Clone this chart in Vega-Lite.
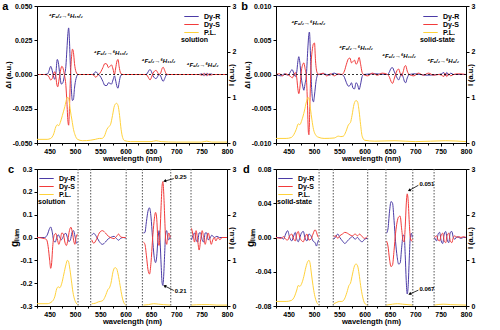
{
"$schema": "https://vega.github.io/schema/vega-lite/v6.json",
"padding": {"left": 1, "top": 0, "right": 1, "bottom": 1},
"config": {
  "font": "Liberation Sans",
  "view": {"stroke": "black", "strokeWidth": 1},
  "axis": {"grid": false, "domainColor": "black", "domainWidth": 1, "tickColor": "black", "tickSize": 3, "tickCount": 20, "labelColor": "black", "labelFontSize": 7, "labelFontWeight": "bold", "labelPadding": 2, "titleColor": "black", "titleFontSize": 7.5, "titleFontWeight": "bold", "titlePadding": 0, "labelFlush": false, "labelOverlap": false},
  "axisX": {"labelPadding": 1, "titlePadding": 0},
  "legend": {"title": null, "symbolType": "M-1.8,0H1.8", "symbolSize": 64, "symbolStrokeWidth": 1.3, "labelFontSize": 7, "labelFontWeight": "bold", "labelColor": "black", "rowPadding": 0, "padding": 0, "labelOffset": 8},
  "title": {"color": "black", "fontSize": 11, "fontWeight": "bold"},
  "text": {"color": "black"},
  "line": {"strokeWidth": 1, "interpolate": "monotone"},
  "locale": {"number": {"decimal": ".", "thousands": ",", "grouping": [3], "currency": ["$", ""], "minus": "-"}}
},
"resolve": {"scale": {"color": "independent"}, "legend": {"color": "independent"}},
"columns": 2,
"spacing": {"row": 1, "column": 3},
"datasets": {
  "a_cpl": [
    {"s":"Dy-R","wl":425,"v":0},{"s":"Dy-R","wl":440,"v":0},{"s":"Dy-R","wl":446,"v":0.0005},{"s":"Dy-R","wl":449,"v":0.003},{"s":"Dy-R","wl":452,"v":0.006},{"s":"Dy-R","wl":455,"v":0.003},{"s":"Dy-R","wl":458,"v":-0.002},{"s":"Dy-R","wl":460,"v":-0.0035},{"s":"Dy-R","wl":462,"v":0},{"s":"Dy-R","wl":465,"v":0.011},{"s":"Dy-R","wl":467,"v":0.009},{"s":"Dy-R","wl":470,"v":0},{"s":"Dy-R","wl":473,"v":-0.007},{"s":"Dy-R","wl":476,"v":-0.006},{"s":"Dy-R","wl":479,"v":-0.001},{"s":"Dy-R","wl":482,"v":0.006},{"s":"Dy-R","wl":484,"v":0.018},{"s":"Dy-R","wl":486,"v":0.03},{"s":"Dy-R","wl":487.5,"v":0.034},{"s":"Dy-R","wl":489,"v":0.025},{"s":"Dy-R","wl":491,"v":0.005},{"s":"Dy-R","wl":493,"v":-0.012},{"s":"Dy-R","wl":495,"v":-0.019},{"s":"Dy-R","wl":497,"v":-0.018},{"s":"Dy-R","wl":499,"v":-0.01},{"s":"Dy-R","wl":502,"v":-0.003},{"s":"Dy-R","wl":506,"v":0},{"s":"Dy-R","wl":535,"v":0},{"s":"Dy-R","wl":538,"v":0.001},{"s":"Dy-R","wl":541,"v":0.002},{"s":"Dy-R","wl":544,"v":0.001},{"s":"Dy-R","wl":547,"v":0},{"s":"Dy-R","wl":551,"v":-0.002},{"s":"Dy-R","wl":555,"v":-0.005},{"s":"Dy-R","wl":559,"v":-0.008},{"s":"Dy-R","wl":563,"v":-0.008},{"s":"Dy-R","wl":566,"v":-0.006},{"s":"Dy-R","wl":569,"v":-0.0065},{"s":"Dy-R","wl":572,"v":-0.007},{"s":"Dy-R","wl":575,"v":-0.004},{"s":"Dy-R","wl":578,"v":-0.001},{"s":"Dy-R","wl":580,"v":-0.004},{"s":"Dy-R","wl":583,"v":-0.009},{"s":"Dy-R","wl":585,"v":-0.01},{"s":"Dy-R","wl":587,"v":-0.006},{"s":"Dy-R","wl":590,"v":-0.001},{"s":"Dy-R","wl":594,"v":0},{"s":"Dy-R","wl":640,"v":0},{"s":"Dy-R","wl":643,"v":0.001},{"s":"Dy-R","wl":646,"v":0.003},{"s":"Dy-R","wl":648,"v":0.0036},{"s":"Dy-R","wl":651,"v":0.002},{"s":"Dy-R","wl":654,"v":-0.001},{"s":"Dy-R","wl":657,"v":-0.0025},{"s":"Dy-R","wl":660,"v":-0.003},{"s":"Dy-R","wl":663,"v":-0.0015},{"s":"Dy-R","wl":666,"v":0},{"s":"Dy-R","wl":669,"v":-0.001},{"s":"Dy-R","wl":672,"v":-0.004},{"s":"Dy-R","wl":674,"v":-0.005},{"s":"Dy-R","wl":677,"v":-0.003},{"s":"Dy-R","wl":680,"v":-0.0005},{"s":"Dy-R","wl":684,"v":0},{"s":"Dy-R","wl":745,"v":0},{"s":"Dy-R","wl":750,"v":0.0005},{"s":"Dy-R","wl":753,"v":-0.0008},{"s":"Dy-R","wl":756,"v":0.0008},{"s":"Dy-R","wl":759,"v":-0.0008},{"s":"Dy-R","wl":762,"v":0.0008},{"s":"Dy-R","wl":765,"v":-0.0005},{"s":"Dy-R","wl":768,"v":0.0005},{"s":"Dy-R","wl":772,"v":0},{"s":"Dy-R","wl":800,"v":0},
    {"s":"Dy-S","wl":425,"v":0},{"s":"Dy-S","wl":440,"v":0},{"s":"Dy-S","wl":446,"v":-0.0005},{"s":"Dy-S","wl":449,"v":-0.002},{"s":"Dy-S","wl":452,"v":-0.004},{"s":"Dy-S","wl":455,"v":-0.003},{"s":"Dy-S","wl":458,"v":0.001},{"s":"Dy-S","wl":460,"v":0.002},{"s":"Dy-S","wl":462,"v":-0.001},{"s":"Dy-S","wl":464,"v":-0.007},{"s":"Dy-S","wl":466,"v":-0.009},{"s":"Dy-S","wl":468,"v":-0.005},{"s":"Dy-S","wl":471,"v":0.002},{"s":"Dy-S","wl":474,"v":0.006},{"s":"Dy-S","wl":476,"v":0.005},{"s":"Dy-S","wl":479,"v":0},{"s":"Dy-S","wl":482,"v":-0.008},{"s":"Dy-S","wl":484,"v":-0.02},{"s":"Dy-S","wl":486,"v":-0.034},{"s":"Dy-S","wl":487.5,"v":-0.037},{"s":"Dy-S","wl":489,"v":-0.025},{"s":"Dy-S","wl":491,"v":-0.002},{"s":"Dy-S","wl":493,"v":0.012},{"s":"Dy-S","wl":495,"v":0.0185},{"s":"Dy-S","wl":497,"v":0.016},{"s":"Dy-S","wl":499,"v":0.008},{"s":"Dy-S","wl":502,"v":0.002},{"s":"Dy-S","wl":506,"v":0},{"s":"Dy-S","wl":535,"v":0},{"s":"Dy-S","wl":538,"v":-0.001},{"s":"Dy-S","wl":541,"v":-0.002},{"s":"Dy-S","wl":544,"v":-0.001},{"s":"Dy-S","wl":547,"v":0},{"s":"Dy-S","wl":551,"v":0.002},{"s":"Dy-S","wl":555,"v":0.005},{"s":"Dy-S","wl":559,"v":0.008},{"s":"Dy-S","wl":563,"v":0.0075},{"s":"Dy-S","wl":566,"v":0.005},{"s":"Dy-S","wl":569,"v":0.006},{"s":"Dy-S","wl":572,"v":0.007},{"s":"Dy-S","wl":575,"v":0.004},{"s":"Dy-S","wl":578,"v":0},{"s":"Dy-S","wl":580,"v":0.004},{"s":"Dy-S","wl":583,"v":0.01},{"s":"Dy-S","wl":585,"v":0.011},{"s":"Dy-S","wl":587,"v":0.006},{"s":"Dy-S","wl":590,"v":0.001},{"s":"Dy-S","wl":594,"v":0},{"s":"Dy-S","wl":640,"v":0},{"s":"Dy-S","wl":643,"v":-0.001},{"s":"Dy-S","wl":646,"v":-0.003},{"s":"Dy-S","wl":648,"v":-0.004},{"s":"Dy-S","wl":651,"v":-0.002},{"s":"Dy-S","wl":654,"v":0.001},{"s":"Dy-S","wl":657,"v":0.0025},{"s":"Dy-S","wl":660,"v":0.003},{"s":"Dy-S","wl":663,"v":0.0015},{"s":"Dy-S","wl":666,"v":0},{"s":"Dy-S","wl":669,"v":0.001},{"s":"Dy-S","wl":672,"v":0.0045},{"s":"Dy-S","wl":674,"v":0.0053},{"s":"Dy-S","wl":677,"v":0.003},{"s":"Dy-S","wl":680,"v":0.0005},{"s":"Dy-S","wl":684,"v":0},{"s":"Dy-S","wl":745,"v":0},{"s":"Dy-S","wl":750,"v":-0.0005},{"s":"Dy-S","wl":753,"v":0.0008},{"s":"Dy-S","wl":756,"v":-0.0008},{"s":"Dy-S","wl":759,"v":0.0008},{"s":"Dy-S","wl":762,"v":-0.0008},{"s":"Dy-S","wl":765,"v":0.0005},{"s":"Dy-S","wl":768,"v":-0.0005},{"s":"Dy-S","wl":772,"v":0},{"s":"Dy-S","wl":800,"v":0}
  ],
  "a_pl": [
    {"wl":425,"v":0.08},{"wl":445,"v":0.08},{"wl":452,"v":0.1},{"wl":458,"v":0.2},{"wl":462,"v":0.35},{"wl":465,"v":0.4},{"wl":468,"v":0.38},{"wl":471,"v":0.45},{"wl":475,"v":0.6},{"wl":480,"v":0.8},{"wl":484,"v":0.98},{"wl":486,"v":1.0},{"wl":488,"v":0.95},{"wl":491,"v":0.7},{"wl":494,"v":0.5},{"wl":497,"v":0.3},{"wl":500,"v":0.18},{"wl":505,"v":0.08},{"wl":515,"v":0.05},{"wl":530,"v":0.06},{"wl":540,"v":0.08},{"wl":548,"v":0.1},{"wl":553,"v":0.1},{"wl":558,"v":0.15},{"wl":563,"v":0.3},{"wl":567,"v":0.36},{"wl":570,"v":0.4},{"wl":574,"v":0.6},{"wl":578,"v":0.82},{"wl":582,"v":0.87},{"wl":585,"v":0.82},{"wl":588,"v":0.6},{"wl":591,"v":0.3},{"wl":594,"v":0.12},{"wl":598,"v":0.05},{"wl":610,"v":0.03},{"wl":650,"v":0.03},{"wl":660,"v":0.05},{"wl":670,"v":0.03},{"wl":700,"v":0.02},{"wl":750,"v":0.02},{"wl":760,"v":0.04},{"wl":770,"v":0.02},{"wl":800,"v":0.02}
  ],
  "a_tr": [
    {"wl":482,"v":0.043,"label":"⁴F₉/₂→⁶H₁₅/₂"},{"wl":571,"v":0.016,"label":"⁴F₉/₂→⁶H₁₃/₂"},{"wl":665,"v":0.0097,"label":"⁴F₉/₂→⁶H₁₁/₂"},{"wl":752,"v":0.0072,"label":"⁴F₉/₂→⁶H₉/₂"}
  ],
  "b_cpl": [
    {"s":"Dy-R","wl":425,"v":0},{"s":"Dy-R","wl":435,"v":-0.0002},{"s":"Dy-R","wl":442,"v":0.0001},{"s":"Dy-R","wl":448,"v":-0.0001},{"s":"Dy-R","wl":452,"v":0.0002},{"s":"Dy-R","wl":455,"v":0.0006},{"s":"Dy-R","wl":457,"v":0.0007},{"s":"Dy-R","wl":460,"v":0.0002},{"s":"Dy-R","wl":463,"v":-0.0003},{"s":"Dy-R","wl":466,"v":0.0004},{"s":"Dy-R","wl":468,"v":0.0018},{"s":"Dy-R","wl":470,"v":0.0026},{"s":"Dy-R","wl":472,"v":0.0018},{"s":"Dy-R","wl":475,"v":-0.0005},{"s":"Dy-R","wl":478,"v":-0.0018},{"s":"Dy-R","wl":480,"v":-0.0023},{"s":"Dy-R","wl":482,"v":-0.0015},{"s":"Dy-R","wl":485,"v":0},{"s":"Dy-R","wl":488,"v":0.004},{"s":"Dy-R","wl":490,"v":0.006},{"s":"Dy-R","wl":491,"v":0.0062},{"s":"Dy-R","wl":493,"v":0.003},{"s":"Dy-R","wl":495,"v":-0.0015},{"s":"Dy-R","wl":497,"v":-0.0035},{"s":"Dy-R","wl":499,"v":-0.004},{"s":"Dy-R","wl":501,"v":-0.003},{"s":"Dy-R","wl":504,"v":-0.001},{"s":"Dy-R","wl":508,"v":0},{"s":"Dy-R","wl":520,"v":0.0001},{"s":"Dy-R","wl":530,"v":-0.0001},{"s":"Dy-R","wl":540,"v":0.0002},{"s":"Dy-R","wl":548,"v":0},{"s":"Dy-R","wl":555,"v":0},{"s":"Dy-R","wl":560,"v":-0.0004},{"s":"Dy-R","wl":564,"v":-0.0012},{"s":"Dy-R","wl":568,"v":-0.0017},{"s":"Dy-R","wl":571,"v":-0.0016},{"s":"Dy-R","wl":574,"v":-0.0012},{"s":"Dy-R","wl":577,"v":-0.002},{"s":"Dy-R","wl":580,"v":-0.0021},{"s":"Dy-R","wl":583,"v":-0.0012},{"s":"Dy-R","wl":586,"v":-0.0015},{"s":"Dy-R","wl":589,"v":-0.0022},{"s":"Dy-R","wl":592,"v":-0.0014},{"s":"Dy-R","wl":595,"v":-0.0003},{"s":"Dy-R","wl":598,"v":0},{"s":"Dy-R","wl":620,"v":0.0001},{"s":"Dy-R","wl":645,"v":0},{"s":"Dy-R","wl":649,"v":0.0004},{"s":"Dy-R","wl":652,"v":0.0009},{"s":"Dy-R","wl":655,"v":0.001},{"s":"Dy-R","wl":658,"v":0.0005},{"s":"Dy-R","wl":661,"v":0},{"s":"Dy-R","wl":664,"v":-0.0005},{"s":"Dy-R","wl":667,"v":-0.0008},{"s":"Dy-R","wl":670,"v":-0.0003},{"s":"Dy-R","wl":673,"v":0.0001},{"s":"Dy-R","wl":676,"v":-0.0004},{"s":"Dy-R","wl":679,"v":-0.0011},{"s":"Dy-R","wl":681,"v":-0.0012},{"s":"Dy-R","wl":684,"v":-0.0005},{"s":"Dy-R","wl":688,"v":0},{"s":"Dy-R","wl":700,"v":0.0001},{"s":"Dy-R","wl":720,"v":-0.0001},{"s":"Dy-R","wl":745,"v":0},{"s":"Dy-R","wl":752,"v":0.0001},{"s":"Dy-R","wl":756,"v":0.0003},{"s":"Dy-R","wl":759,"v":-0.0002},{"s":"Dy-R","wl":762,"v":0.0003},{"s":"Dy-R","wl":766,"v":-0.0001},{"s":"Dy-R","wl":770,"v":0.0002},{"s":"Dy-R","wl":775,"v":0},{"s":"Dy-R","wl":800,"v":0},
    {"s":"Dy-S","wl":425,"v":0},{"s":"Dy-S","wl":432,"v":0.0001},{"s":"Dy-S","wl":438,"v":-0.0002},{"s":"Dy-S","wl":444,"v":0.0001},{"s":"Dy-S","wl":450,"v":-0.0001},{"s":"Dy-S","wl":454,"v":-0.0003},{"s":"Dy-S","wl":457,"v":-0.0005},{"s":"Dy-S","wl":460,"v":-0.0001},{"s":"Dy-S","wl":463,"v":0.0003},{"s":"Dy-S","wl":466,"v":-0.0005},{"s":"Dy-S","wl":468,"v":-0.002},{"s":"Dy-S","wl":470,"v":-0.0028},{"s":"Dy-S","wl":472,"v":-0.002},{"s":"Dy-S","wl":475,"v":0.0005},{"s":"Dy-S","wl":478,"v":0.0015},{"s":"Dy-S","wl":480,"v":0.0017},{"s":"Dy-S","wl":482,"v":0.001},{"s":"Dy-S","wl":485,"v":-0.0005},{"s":"Dy-S","wl":487,"v":-0.004},{"s":"Dy-S","wl":489,"v":-0.0085},{"s":"Dy-S","wl":490,"v":-0.0088},{"s":"Dy-S","wl":492,"v":-0.004},{"s":"Dy-S","wl":494,"v":0.001},{"s":"Dy-S","wl":497,"v":0.0038},{"s":"Dy-S","wl":499,"v":0.0045},{"s":"Dy-S","wl":501,"v":0.0046},{"s":"Dy-S","wl":503,"v":0.002},{"s":"Dy-S","wl":506,"v":0.0003},{"s":"Dy-S","wl":510,"v":0},{"s":"Dy-S","wl":518,"v":0.0002},{"s":"Dy-S","wl":525,"v":-0.0002},{"s":"Dy-S","wl":533,"v":0.0001},{"s":"Dy-S","wl":540,"v":-0.0002},{"s":"Dy-S","wl":548,"v":0.0001},{"s":"Dy-S","wl":555,"v":0},{"s":"Dy-S","wl":560,"v":0.0005},{"s":"Dy-S","wl":564,"v":0.0015},{"s":"Dy-S","wl":568,"v":0.0023},{"s":"Dy-S","wl":571,"v":0.0024},{"s":"Dy-S","wl":574,"v":0.0017},{"s":"Dy-S","wl":577,"v":0.0019},{"s":"Dy-S","wl":580,"v":0.0021},{"s":"Dy-S","wl":583,"v":0.0015},{"s":"Dy-S","wl":586,"v":0.0018},{"s":"Dy-S","wl":589,"v":0.0025},{"s":"Dy-S","wl":592,"v":0.0015},{"s":"Dy-S","wl":595,"v":0.0003},{"s":"Dy-S","wl":598,"v":0},{"s":"Dy-S","wl":606,"v":-0.0002},{"s":"Dy-S","wl":615,"v":0.0002},{"s":"Dy-S","wl":625,"v":-0.0001},{"s":"Dy-S","wl":635,"v":0.0002},{"s":"Dy-S","wl":645,"v":0},{"s":"Dy-S","wl":649,"v":-0.0004},{"s":"Dy-S","wl":652,"v":-0.001},{"s":"Dy-S","wl":655,"v":-0.0013},{"s":"Dy-S","wl":658,"v":-0.0007},{"s":"Dy-S","wl":661,"v":0},{"s":"Dy-S","wl":664,"v":0.0006},{"s":"Dy-S","wl":667,"v":0.0008},{"s":"Dy-S","wl":670,"v":0.0002},{"s":"Dy-S","wl":673,"v":-0.0002},{"s":"Dy-S","wl":676,"v":0.0004},{"s":"Dy-S","wl":679,"v":0.0012},{"s":"Dy-S","wl":681,"v":0.0013},{"s":"Dy-S","wl":684,"v":0.0005},{"s":"Dy-S","wl":688,"v":0},{"s":"Dy-S","wl":697,"v":-0.0002},{"s":"Dy-S","wl":706,"v":0.0002},{"s":"Dy-S","wl":716,"v":-0.0001},{"s":"Dy-S","wl":726,"v":0.0002},{"s":"Dy-S","wl":736,"v":-0.0001},{"s":"Dy-S","wl":745,"v":0},{"s":"Dy-S","wl":752,"v":-0.0001},{"s":"Dy-S","wl":756,"v":-0.0003},{"s":"Dy-S","wl":759,"v":0.0002},{"s":"Dy-S","wl":762,"v":-0.0003},{"s":"Dy-S","wl":766,"v":0.0001},{"s":"Dy-S","wl":770,"v":-0.0002},{"s":"Dy-S","wl":775,"v":0},{"s":"Dy-S","wl":785,"v":0.0001},{"s":"Dy-S","wl":800,"v":0}
  ],
  "b_pl": [
    {"wl":425,"v":0.1},{"wl":445,"v":0.1},{"wl":455,"v":0.12},{"wl":460,"v":0.18},{"wl":465,"v":0.3},{"wl":469,"v":0.42},{"wl":472,"v":0.4},{"wl":476,"v":0.5},{"wl":481,"v":0.7},{"wl":485,"v":0.9},{"wl":488,"v":1.0},{"wl":490,"v":0.97},{"wl":493,"v":0.75},{"wl":496,"v":0.5},{"wl":499,"v":0.3},{"wl":503,"v":0.18},{"wl":508,"v":0.13},{"wl":520,"v":0.1},{"wl":540,"v":0.11},{"wl":548,"v":0.15},{"wl":553,"v":0.14},{"wl":558,"v":0.15},{"wl":563,"v":0.25},{"wl":568,"v":0.4},{"wl":572,"v":0.45},{"wl":575,"v":0.6},{"wl":579,"v":0.85},{"wl":583,"v":0.93},{"wl":586,"v":0.9},{"wl":589,"v":0.7},{"wl":592,"v":0.4},{"wl":595,"v":0.15},{"wl":600,"v":0.06},{"wl":620,"v":0.04},{"wl":660,"v":0.05},{"wl":700,"v":0.03},{"wl":760,"v":0.05},{"wl":800,"v":0.03}
  ],
  "b_tr": [
    {"wl":489,"v":0.0075,"label":"⁴F₉/₂→⁶H₁₅/₂"},{"wl":583,"v":0.0039,"label":"⁴F₉/₂→⁶H₁₃/₂"},{"wl":668,"v":0.0027,"label":"⁴F₉/₂→⁶H₁₁/₂"},{"wl":755,"v":0.0019,"label":"⁴F₉/₂→⁶H₉/₂"}
  ],
  "c_cpl": [
    {"s":"Dy-R","g":1,"wl":425,"v":0},{"s":"Dy-R","g":1,"wl":440,"v":0},{"s":"Dy-R","g":1,"wl":446,"v":0.015},{"s":"Dy-R","g":1,"wl":449,"v":0.035},{"s":"Dy-R","g":1,"wl":452,"v":0.046},{"s":"Dy-R","g":1,"wl":455,"v":0.025},{"s":"Dy-R","g":1,"wl":458,"v":-0.015},{"s":"Dy-R","g":1,"wl":461,"v":-0.02},{"s":"Dy-R","g":1,"wl":464,"v":0},{"s":"Dy-R","g":1,"wl":467,"v":0.012},{"s":"Dy-R","g":1,"wl":470,"v":0},{"s":"Dy-R","g":1,"wl":473,"v":-0.01},{"s":"Dy-R","g":1,"wl":476,"v":0},{"s":"Dy-R","g":1,"wl":479,"v":0.015},{"s":"Dy-R","g":1,"wl":482,"v":0.018},{"s":"Dy-R","g":1,"wl":485,"v":0},{"s":"Dy-R","g":1,"wl":488,"v":-0.018},{"s":"Dy-R","g":1,"wl":491,"v":-0.01},{"s":"Dy-R","g":1,"wl":494,"v":0.02},{"s":"Dy-R","g":1,"wl":497,"v":0.03},{"s":"Dy-R","g":1,"wl":500,"v":0.005},{"s":"Dy-R","g":1,"wl":503,"v":-0.025},{"s":"Dy-R","g":1,"wl":505,"v":-0.02},
    {"s":"Dy-R","g":2,"wl":533,"v":0.01},{"s":"Dy-R","g":2,"wl":537,"v":0.018},{"s":"Dy-R","g":2,"wl":542,"v":0.005},{"s":"Dy-R","g":2,"wl":548,"v":-0.018},{"s":"Dy-R","g":2,"wl":554,"v":-0.03},{"s":"Dy-R","g":2,"wl":560,"v":-0.02},{"s":"Dy-R","g":2,"wl":566,"v":-0.005},{"s":"Dy-R","g":2,"wl":572,"v":0.002},{"s":"Dy-R","g":2,"wl":577,"v":0.005},{"s":"Dy-R","g":2,"wl":582,"v":-0.005},{"s":"Dy-R","g":2,"wl":586,"v":-0.012},{"s":"Dy-R","g":2,"wl":590,"v":-0.004},{"s":"Dy-R","g":2,"wl":595,"v":0},{"s":"Dy-R","g":2,"wl":600,"v":-0.003},
    {"s":"Dy-R","g":3,"wl":635,"v":0.02},{"s":"Dy-R","g":3,"wl":638,"v":0.022},{"s":"Dy-R","g":3,"wl":641,"v":0.07},{"s":"Dy-R","g":3,"wl":644,"v":0.115},{"s":"Dy-R","g":3,"wl":647,"v":0.13},{"s":"Dy-R","g":3,"wl":650,"v":0.09},{"s":"Dy-R","g":3,"wl":653,"v":0},{"s":"Dy-R","g":3,"wl":656,"v":-0.08},{"s":"Dy-R","g":3,"wl":659,"v":-0.11},{"s":"Dy-R","g":3,"wl":661,"v":-0.09},{"s":"Dy-R","g":3,"wl":664,"v":0},{"s":"Dy-R","g":3,"wl":666,"v":0.03},{"s":"Dy-R","g":3,"wl":668,"v":-0.02},{"s":"Dy-R","g":3,"wl":670,"v":-0.12},{"s":"Dy-R","g":3,"wl":672,"v":-0.2},{"s":"Dy-R","g":3,"wl":673.5,"v":-0.21},{"s":"Dy-R","g":3,"wl":675,"v":-0.17},{"s":"Dy-R","g":3,"wl":677,"v":-0.07},{"s":"Dy-R","g":3,"wl":679,"v":0.02},{"s":"Dy-R","g":3,"wl":681,"v":0.03},{"s":"Dy-R","g":3,"wl":683,"v":0},{"s":"Dy-R","g":3,"wl":685,"v":-0.01},{"s":"Dy-R","g":3,"wl":688,"v":0.005},
    {"s":"Dy-R","g":4,"wl":730,"v":-0.01},{"s":"Dy-R","g":4,"wl":733,"v":0.01},{"s":"Dy-R","g":4,"wl":736,"v":0.02},{"s":"Dy-R","g":4,"wl":739,"v":-0.01},{"s":"Dy-R","g":4,"wl":742,"v":-0.02},{"s":"Dy-R","g":4,"wl":745,"v":0.02},{"s":"Dy-R","g":4,"wl":748,"v":0.02},{"s":"Dy-R","g":4,"wl":751,"v":-0.01},{"s":"Dy-R","g":4,"wl":754,"v":-0.02},{"s":"Dy-R","g":4,"wl":757,"v":0.02},{"s":"Dy-R","g":4,"wl":760,"v":0.02},{"s":"Dy-R","g":4,"wl":763,"v":-0.01},{"s":"Dy-R","g":4,"wl":766,"v":-0.005},{"s":"Dy-R","g":4,"wl":770,"v":0.01},{"s":"Dy-R","g":4,"wl":775,"v":0},{"s":"Dy-R","g":4,"wl":780,"v":0.005},{"s":"Dy-R","g":4,"wl":785,"v":0},{"s":"Dy-R","g":4,"wl":800,"v":0},
    {"s":"Dy-S","g":1,"wl":425,"v":0},{"s":"Dy-S","g":1,"wl":440,"v":-0.005},{"s":"Dy-S","g":1,"wl":444,"v":-0.01},{"s":"Dy-S","g":1,"wl":447,"v":-0.04},{"s":"Dy-S","g":1,"wl":450,"v":-0.1},{"s":"Dy-S","g":1,"wl":452,"v":-0.135},{"s":"Dy-S","g":1,"wl":454,"v":-0.11},{"s":"Dy-S","g":1,"wl":456,"v":-0.04},{"s":"Dy-S","g":1,"wl":459,"v":0.01},{"s":"Dy-S","g":1,"wl":462,"v":0.018},{"s":"Dy-S","g":1,"wl":465,"v":-0.005},{"s":"Dy-S","g":1,"wl":468,"v":-0.03},{"s":"Dy-S","g":1,"wl":471,"v":-0.01},{"s":"Dy-S","g":1,"wl":474,"v":0.02},{"s":"Dy-S","g":1,"wl":477,"v":0.015},{"s":"Dy-S","g":1,"wl":480,"v":-0.02},{"s":"Dy-S","g":1,"wl":483,"v":-0.035},{"s":"Dy-S","g":1,"wl":486,"v":-0.01},{"s":"Dy-S","g":1,"wl":489,"v":0.03},{"s":"Dy-S","g":1,"wl":492,"v":0.045},{"s":"Dy-S","g":1,"wl":495,"v":0.02},{"s":"Dy-S","g":1,"wl":498,"v":-0.02},{"s":"Dy-S","g":1,"wl":500,"v":-0.03},{"s":"Dy-S","g":1,"wl":502,"v":0},{"s":"Dy-S","g":1,"wl":505,"v":0.015},
    {"s":"Dy-S","g":2,"wl":533,"v":-0.01},{"s":"Dy-S","g":2,"wl":537,"v":-0.025},{"s":"Dy-S","g":2,"wl":542,"v":-0.01},{"s":"Dy-S","g":2,"wl":548,"v":0.02},{"s":"Dy-S","g":2,"wl":554,"v":0.03},{"s":"Dy-S","g":2,"wl":560,"v":0.02},{"s":"Dy-S","g":2,"wl":566,"v":0.005},{"s":"Dy-S","g":2,"wl":572,"v":-0.002},{"s":"Dy-S","g":2,"wl":577,"v":-0.005},{"s":"Dy-S","g":2,"wl":582,"v":0.005},{"s":"Dy-S","g":2,"wl":586,"v":0.015},{"s":"Dy-S","g":2,"wl":590,"v":0.003},{"s":"Dy-S","g":2,"wl":595,"v":0},{"s":"Dy-S","g":2,"wl":600,"v":0},
    {"s":"Dy-S","g":3,"wl":635,"v":-0.02},{"s":"Dy-S","g":3,"wl":638,"v":-0.03},{"s":"Dy-S","g":3,"wl":641,"v":-0.08},{"s":"Dy-S","g":3,"wl":644,"v":-0.14},{"s":"Dy-S","g":3,"wl":647,"v":-0.16},{"s":"Dy-S","g":3,"wl":650,"v":-0.11},{"s":"Dy-S","g":3,"wl":653,"v":-0.01},{"s":"Dy-S","g":3,"wl":656,"v":0.07},{"s":"Dy-S","g":3,"wl":659,"v":0.11},{"s":"Dy-S","g":3,"wl":661,"v":0.09},{"s":"Dy-S","g":3,"wl":664,"v":-0.02},{"s":"Dy-S","g":3,"wl":666,"v":-0.035},{"s":"Dy-S","g":3,"wl":668,"v":0.03},{"s":"Dy-S","g":3,"wl":670,"v":0.14},{"s":"Dy-S","g":3,"wl":672,"v":0.23},{"s":"Dy-S","g":3,"wl":673.5,"v":0.245},{"s":"Dy-S","g":3,"wl":675,"v":0.2},{"s":"Dy-S","g":3,"wl":677,"v":0.09},{"s":"Dy-S","g":3,"wl":679,"v":-0.01},{"s":"Dy-S","g":3,"wl":681,"v":-0.03},{"s":"Dy-S","g":3,"wl":683,"v":0},{"s":"Dy-S","g":3,"wl":685,"v":0.02},{"s":"Dy-S","g":3,"wl":688,"v":0},
    {"s":"Dy-S","g":4,"wl":730,"v":0.04},{"s":"Dy-S","g":4,"wl":733,"v":0.01},{"s":"Dy-S","g":4,"wl":736,"v":-0.02},{"s":"Dy-S","g":4,"wl":739,"v":0.03},{"s":"Dy-S","g":4,"wl":742,"v":-0.01},{"s":"Dy-S","g":4,"wl":745,"v":-0.055},{"s":"Dy-S","g":4,"wl":748,"v":-0.01},{"s":"Dy-S","g":4,"wl":751,"v":0.03},{"s":"Dy-S","g":4,"wl":754,"v":0},{"s":"Dy-S","g":4,"wl":757,"v":-0.03},{"s":"Dy-S","g":4,"wl":760,"v":0},{"s":"Dy-S","g":4,"wl":763,"v":0.02},{"s":"Dy-S","g":4,"wl":766,"v":-0.005},{"s":"Dy-S","g":4,"wl":769,"v":-0.03},{"s":"Dy-S","g":4,"wl":772,"v":-0.01},{"s":"Dy-S","g":4,"wl":775,"v":0},{"s":"Dy-S","g":4,"wl":778,"v":-0.015},{"s":"Dy-S","g":4,"wl":782,"v":0},{"s":"Dy-S","g":4,"wl":786,"v":-0.01},{"s":"Dy-S","g":4,"wl":790,"v":0},{"s":"Dy-S","g":4,"wl":800,"v":0}
  ],
  "c_pl": [
    {"g":1,"wl":425,"v":0.05},{"g":1,"wl":445,"v":0.05},{"g":1,"wl":455,"v":0.1},{"g":1,"wl":460,"v":0.2},{"g":1,"wl":464,"v":0.38},{"g":1,"wl":467,"v":0.42},{"g":1,"wl":470,"v":0.4},{"g":1,"wl":474,"v":0.5},{"g":1,"wl":478,"v":0.7},{"g":1,"wl":482,"v":0.9},{"g":1,"wl":485,"v":1.0},{"g":1,"wl":487,"v":0.98},{"g":1,"wl":490,"v":0.8},{"g":1,"wl":493,"v":0.55},{"g":1,"wl":496,"v":0.3},{"g":1,"wl":499,"v":0.15},{"g":1,"wl":502,"v":0.07},{"g":1,"wl":505,"v":0.03},
    {"g":2,"wl":533,"v":0.05},{"g":2,"wl":540,"v":0.06},{"g":2,"wl":546,"v":0.09},{"g":2,"wl":550,"v":0.1},{"g":2,"wl":555,"v":0.12},{"g":2,"wl":560,"v":0.22},{"g":2,"wl":565,"v":0.36},{"g":2,"wl":568,"v":0.4},{"g":2,"wl":571,"v":0.5},{"g":2,"wl":575,"v":0.75},{"g":2,"wl":579,"v":0.84},{"g":2,"wl":582,"v":0.82},{"g":2,"wl":585,"v":0.7},{"g":2,"wl":589,"v":0.45},{"g":2,"wl":593,"v":0.2},{"g":2,"wl":597,"v":0.06},{"g":2,"wl":600,"v":0.02},
    {"g":3,"wl":635,"v":0.02},{"g":3,"wl":645,"v":0.03},{"g":3,"wl":655,"v":0.05},{"g":3,"wl":665,"v":0.04},{"g":3,"wl":675,"v":0.03},{"g":3,"wl":688,"v":0.02},
    {"g":4,"wl":730,"v":0.02},{"g":4,"wl":750,"v":0.03},{"g":4,"wl":765,"v":0.03},{"g":4,"wl":780,"v":0.02},{"g":4,"wl":800,"v":0.02}
  ],
  "c_sep": [{"wl":506},{"wl":531},{"wl":601},{"wl":633},{"wl":689},{"wl":729}],
  "d_cpl": [
    {"s":"Dy-R","g":1,"wl":425,"v":0},{"s":"Dy-R","g":1,"wl":435,"v":0},{"s":"Dy-R","g":1,"wl":440,"v":-0.002},{"s":"Dy-R","g":1,"wl":444,"v":0.004},{"s":"Dy-R","g":1,"wl":448,"v":0.008},{"s":"Dy-R","g":1,"wl":452,"v":0},{"s":"Dy-R","g":1,"wl":456,"v":-0.004},{"s":"Dy-R","g":1,"wl":460,"v":0.002},{"s":"Dy-R","g":1,"wl":463,"v":0.006},{"s":"Dy-R","g":1,"wl":466,"v":-0.002},{"s":"Dy-R","g":1,"wl":469,"v":-0.005},{"s":"Dy-R","g":1,"wl":472,"v":0},{"s":"Dy-R","g":1,"wl":476,"v":0.006},{"s":"Dy-R","g":1,"wl":479,"v":0.007},{"s":"Dy-R","g":1,"wl":482,"v":0},{"s":"Dy-R","g":1,"wl":486,"v":-0.004},{"s":"Dy-R","g":1,"wl":490,"v":0.004},{"s":"Dy-R","g":1,"wl":494,"v":0.002},{"s":"Dy-R","g":1,"wl":498,"v":-0.004},{"s":"Dy-R","g":1,"wl":502,"v":-0.006},{"s":"Dy-R","g":1,"wl":505,"v":-0.01},{"s":"Dy-R","g":1,"wl":507,"v":-0.006},{"s":"Dy-R","g":1,"wl":509,"v":-0.003},
    {"s":"Dy-R","g":2,"wl":539,"v":-0.002},{"s":"Dy-R","g":2,"wl":543,"v":0.001},{"s":"Dy-R","g":2,"wl":547,"v":0.004},{"s":"Dy-R","g":2,"wl":551,"v":0},{"s":"Dy-R","g":2,"wl":556,"v":-0.004},{"s":"Dy-R","g":2,"wl":561,"v":-0.007},{"s":"Dy-R","g":2,"wl":566,"v":-0.004},{"s":"Dy-R","g":2,"wl":571,"v":-0.001},{"s":"Dy-R","g":2,"wl":576,"v":0.001},{"s":"Dy-R","g":2,"wl":581,"v":-0.002},{"s":"Dy-R","g":2,"wl":586,"v":0},{"s":"Dy-R","g":2,"wl":590,"v":-0.003},{"s":"Dy-R","g":2,"wl":595,"v":-0.005},{"s":"Dy-R","g":2,"wl":600,"v":-0.002},{"s":"Dy-R","g":2,"wl":605,"v":-0.001},
    {"s":"Dy-R","g":3,"wl":643,"v":0.005},{"s":"Dy-R","g":3,"wl":646,"v":0.01},{"s":"Dy-R","g":3,"wl":649,"v":0.03},{"s":"Dy-R","g":3,"wl":652,"v":0.042},{"s":"Dy-R","g":3,"wl":655,"v":0.04},{"s":"Dy-R","g":3,"wl":658,"v":0.02},{"s":"Dy-R","g":3,"wl":661,"v":-0.005},{"s":"Dy-R","g":3,"wl":664,"v":-0.022},{"s":"Dy-R","g":3,"wl":667,"v":-0.031},{"s":"Dy-R","g":3,"wl":670,"v":-0.03},{"s":"Dy-R","g":3,"wl":673,"v":-0.012},{"s":"Dy-R","g":3,"wl":676,"v":0.003},{"s":"Dy-R","g":3,"wl":678,"v":0.002},{"s":"Dy-R","g":3,"wl":680,"v":-0.02},{"s":"Dy-R","g":3,"wl":682,"v":-0.05},{"s":"Dy-R","g":3,"wl":684,"v":-0.066},{"s":"Dy-R","g":3,"wl":686,"v":-0.055},{"s":"Dy-R","g":3,"wl":688,"v":-0.025},{"s":"Dy-R","g":3,"wl":690,"v":0},{"s":"Dy-R","g":3,"wl":692,"v":0.005},{"s":"Dy-R","g":3,"wl":694,"v":0},
    {"s":"Dy-R","g":4,"wl":738,"v":0},{"s":"Dy-R","g":4,"wl":742,"v":-0.004},{"s":"Dy-R","g":4,"wl":745,"v":0.004},{"s":"Dy-R","g":4,"wl":748,"v":0.006},{"s":"Dy-R","g":4,"wl":751,"v":-0.004},{"s":"Dy-R","g":4,"wl":754,"v":-0.007},{"s":"Dy-R","g":4,"wl":757,"v":0.004},{"s":"Dy-R","g":4,"wl":760,"v":0.007},{"s":"Dy-R","g":4,"wl":763,"v":-0.003},{"s":"Dy-R","g":4,"wl":766,"v":-0.006},{"s":"Dy-R","g":4,"wl":769,"v":0.006},{"s":"Dy-R","g":4,"wl":772,"v":0.007},{"s":"Dy-R","g":4,"wl":775,"v":0},{"s":"Dy-R","g":4,"wl":778,"v":-0.002},{"s":"Dy-R","g":4,"wl":782,"v":0.001},{"s":"Dy-R","g":4,"wl":786,"v":0},{"s":"Dy-R","g":4,"wl":790,"v":-0.001},{"s":"Dy-R","g":4,"wl":795,"v":0},{"s":"Dy-R","g":4,"wl":800,"v":0},
    {"s":"Dy-S","g":1,"wl":425,"v":0},{"s":"Dy-S","g":1,"wl":435,"v":-0.001},{"s":"Dy-S","g":1,"wl":440,"v":0.001},{"s":"Dy-S","g":1,"wl":444,"v":-0.002},{"s":"Dy-S","g":1,"wl":448,"v":-0.003},{"s":"Dy-S","g":1,"wl":452,"v":0.002},{"s":"Dy-S","g":1,"wl":456,"v":0.004},{"s":"Dy-S","g":1,"wl":460,"v":-0.002},{"s":"Dy-S","g":1,"wl":463,"v":-0.004},{"s":"Dy-S","g":1,"wl":466,"v":0.004},{"s":"Dy-S","g":1,"wl":469,"v":0.007},{"s":"Dy-S","g":1,"wl":472,"v":0},{"s":"Dy-S","g":1,"wl":476,"v":-0.004},{"s":"Dy-S","g":1,"wl":479,"v":-0.005},{"s":"Dy-S","g":1,"wl":482,"v":0},{"s":"Dy-S","g":1,"wl":486,"v":0.004},{"s":"Dy-S","g":1,"wl":490,"v":-0.003},{"s":"Dy-S","g":1,"wl":494,"v":-0.002},{"s":"Dy-S","g":1,"wl":498,"v":0.004},{"s":"Dy-S","g":1,"wl":502,"v":0.009},{"s":"Dy-S","g":1,"wl":505,"v":0.006},{"s":"Dy-S","g":1,"wl":507,"v":0.002},{"s":"Dy-S","g":1,"wl":509,"v":0},
    {"s":"Dy-S","g":2,"wl":539,"v":0.001},{"s":"Dy-S","g":2,"wl":543,"v":0.002},{"s":"Dy-S","g":2,"wl":547,"v":-0.001},{"s":"Dy-S","g":2,"wl":551,"v":0.002},{"s":"Dy-S","g":2,"wl":556,"v":0.004},{"s":"Dy-S","g":2,"wl":561,"v":0.006},{"s":"Dy-S","g":2,"wl":566,"v":0.005},{"s":"Dy-S","g":2,"wl":571,"v":0.003},{"s":"Dy-S","g":2,"wl":576,"v":0.002},{"s":"Dy-S","g":2,"wl":581,"v":0.004},{"s":"Dy-S","g":2,"wl":586,"v":0.002},{"s":"Dy-S","g":2,"wl":590,"v":0.004},{"s":"Dy-S","g":2,"wl":595,"v":0.001},{"s":"Dy-S","g":2,"wl":600,"v":-0.001},{"s":"Dy-S","g":2,"wl":605,"v":0.001},
    {"s":"Dy-S","g":3,"wl":643,"v":-0.004},{"s":"Dy-S","g":3,"wl":646,"v":-0.01},{"s":"Dy-S","g":3,"wl":649,"v":-0.025},{"s":"Dy-S","g":3,"wl":652,"v":-0.034},{"s":"Dy-S","g":3,"wl":655,"v":-0.032},{"s":"Dy-S","g":3,"wl":658,"v":-0.015},{"s":"Dy-S","g":3,"wl":661,"v":0.005},{"s":"Dy-S","g":3,"wl":664,"v":0.018},{"s":"Dy-S","g":3,"wl":667,"v":0.024},{"s":"Dy-S","g":3,"wl":670,"v":0.025},{"s":"Dy-S","g":3,"wl":673,"v":0.01},{"s":"Dy-S","g":3,"wl":676,"v":-0.004},{"s":"Dy-S","g":3,"wl":678,"v":-0.005},{"s":"Dy-S","g":3,"wl":680,"v":0.012},{"s":"Dy-S","g":3,"wl":682,"v":0.038},{"s":"Dy-S","g":3,"wl":684,"v":0.051},{"s":"Dy-S","g":3,"wl":686,"v":0.042},{"s":"Dy-S","g":3,"wl":688,"v":0.018},{"s":"Dy-S","g":3,"wl":690,"v":0},{"s":"Dy-S","g":3,"wl":692,"v":-0.004},{"s":"Dy-S","g":3,"wl":694,"v":-0.002},
    {"s":"Dy-S","g":4,"wl":738,"v":0},{"s":"Dy-S","g":4,"wl":742,"v":0.002},{"s":"Dy-S","g":4,"wl":745,"v":-0.003},{"s":"Dy-S","g":4,"wl":748,"v":-0.004},{"s":"Dy-S","g":4,"wl":751,"v":0.003},{"s":"Dy-S","g":4,"wl":754,"v":0.005},{"s":"Dy-S","g":4,"wl":757,"v":-0.004},{"s":"Dy-S","g":4,"wl":760,"v":-0.006},{"s":"Dy-S","g":4,"wl":763,"v":0.003},{"s":"Dy-S","g":4,"wl":766,"v":0.005},{"s":"Dy-S","g":4,"wl":769,"v":-0.004},{"s":"Dy-S","g":4,"wl":772,"v":-0.006},{"s":"Dy-S","g":4,"wl":775,"v":0},{"s":"Dy-S","g":4,"wl":778,"v":0.002},{"s":"Dy-S","g":4,"wl":782,"v":0},{"s":"Dy-S","g":4,"wl":786,"v":0.001},{"s":"Dy-S","g":4,"wl":790,"v":0},{"s":"Dy-S","g":4,"wl":795,"v":0.001},{"s":"Dy-S","g":4,"wl":800,"v":0}
  ],
  "d_pl": [
    {"g":1,"wl":425,"v":0.1},{"g":1,"wl":445,"v":0.1},{"g":1,"wl":455,"v":0.12},{"g":1,"wl":462,"v":0.22},{"g":1,"wl":466,"v":0.35},{"g":1,"wl":469,"v":0.45},{"g":1,"wl":472,"v":0.43},{"g":1,"wl":476,"v":0.5},{"g":1,"wl":480,"v":0.65},{"g":1,"wl":484,"v":0.85},{"g":1,"wl":488,"v":0.98},{"g":1,"wl":490,"v":1.0},{"g":1,"wl":492,"v":0.95},{"g":1,"wl":495,"v":0.7},{"g":1,"wl":498,"v":0.45},{"g":1,"wl":501,"v":0.25},{"g":1,"wl":504,"v":0.12},{"g":1,"wl":507,"v":0.05},{"g":1,"wl":509,"v":0.03},
    {"g":2,"wl":539,"v":0.05},{"g":2,"wl":545,"v":0.08},{"g":2,"wl":550,"v":0.1},{"g":2,"wl":555,"v":0.1},{"g":2,"wl":560,"v":0.15},{"g":2,"wl":565,"v":0.3},{"g":2,"wl":569,"v":0.45},{"g":2,"wl":572,"v":0.5},{"g":2,"wl":576,"v":0.7},{"g":2,"wl":580,"v":0.88},{"g":2,"wl":583,"v":0.92},{"g":2,"wl":586,"v":0.88},{"g":2,"wl":589,"v":0.7},{"g":2,"wl":592,"v":0.45},{"g":2,"wl":596,"v":0.2},{"g":2,"wl":600,"v":0.06},{"g":2,"wl":605,"v":0.02},
    {"g":3,"wl":643,"v":0.02},{"g":3,"wl":655,"v":0.04},{"g":3,"wl":665,"v":0.05},{"g":3,"wl":675,"v":0.04},{"g":3,"wl":694,"v":0.02},
    {"g":4,"wl":738,"v":0.02},{"g":4,"wl":755,"v":0.04},{"g":4,"wl":770,"v":0.03},{"g":4,"wl":800,"v":0.02}
  ],
  "d_sep": [{"wl":510},{"wl":538},{"wl":606},{"wl":642},{"wl":695},{"wl":737}]
},
"concat": [
  {
    "width": 190, "height": 137,
    "title": {"text": "a", "anchor": "start", "frame": "bounds", "offset": -10, "dx": -2},
    "layer": [
      {"layer": [
        {"data": {"name": "a_cpl"}, "mark": {"type": "line"},
         "encoding": {
           "x": {"field": "wl", "type": "quantitative", "scale": {"domain": [425, 800], "nice": false, "zero": false}, "axis": {"orient": "bottom", "title": "wavelength (nm)", "values": [450, 500, 550, 600, 650, 700, 750, 800], "tickCount": 20, "labelOverlap": false}},
           "y": {"field": "v", "type": "quantitative", "scale": {"domain": [-0.05, 0.05], "nice": false}, "axis": {"title": "ΔI (a.u.)", "values": [-0.05, -0.025, 0, 0.025, 0.05], "tickCount": 20, "format": ".3f", "labelOverlap": false}},
           "color": {"field": "s", "type": "nominal", "scale": {"domain": ["Dy-R", "Dy-S", "P.L."], "range": ["#4B3BA6", "#F23B3B", "#FFD23A"]}, "legend": {"orient": "top-right", "offset": 6}}
         }},
        {"data": {"values": [{}]}, "mark": {"type": "rule", "strokeDash": [2, 2], "color": "black", "strokeWidth": 0.8}, "encoding": {"y": {"datum": 0}}},
        {"data": {"name": "a_tr"}, "mark": {"type": "text", "fontSize": 6, "fontWeight": "bold", "fontStyle": "italic"},
         "encoding": {"x": {"field": "wl", "type": "quantitative"}, "y": {"field": "v", "type": "quantitative"}, "text": {"field": "label"}}},
        {"data": {"values": [{"wl": 709, "v": 0.0252, "label": "solution"}]}, "mark": {"type": "text", "align": "left", "fontSize": 7, "fontWeight": "bold"},
         "encoding": {"x": {"field": "wl", "type": "quantitative"}, "y": {"field": "v", "type": "quantitative"}, "text": {"field": "label"}}}
      ]},
      {"data": {"name": "a_pl"}, "mark": {"type": "line"},
       "encoding": {
         "x": {"field": "wl", "type": "quantitative", "axis": {"orient": "bottom", "values": [425, 475, 525, 575, 625, 675, 725, 775], "tickCount": 20, "labels": false, "tickSize": 2, "domain": false, "title": null}},
         "y": {"field": "v", "type": "quantitative", "scale": {"domain": [0, 3], "nice": false}, "axis": {"orient": "right", "title": "I (a.u.)", "values": [0, 1, 2, 3], "format": "d", "tickCount": 20, "titleAngle": 270, "labelOverlap": false}},
         "color": {"datum": "P.L.", "legend": null}
       }}
    ],
    "resolve": {"scale": {"y": "independent"}, "axis": {"x": "independent"}}
  },
  {
    "width": 190, "height": 137,
    "title": {"text": "b", "anchor": "start", "frame": "bounds", "offset": -10, "dx": -2},
    "layer": [
      {"layer": [
        {"data": {"name": "b_cpl"}, "mark": {"type": "line"},
         "encoding": {
           "x": {"field": "wl", "type": "quantitative", "scale": {"domain": [425, 800], "nice": false, "zero": false}, "axis": {"orient": "bottom", "title": "wavelength (nm)", "values": [450, 500, 550, 600, 650, 700, 750, 800], "tickCount": 20, "labelOverlap": false}},
           "y": {"field": "v", "type": "quantitative", "scale": {"domain": [-0.01, 0.01], "nice": false}, "axis": {"title": "ΔI (a.u.)", "values": [-0.01, -0.005, 0, 0.005, 0.01], "tickCount": 20, "format": ".3f", "labelOverlap": false}},
           "color": {"field": "s", "type": "nominal", "scale": {"domain": ["Dy-R", "Dy-S", "P.L."], "range": ["#4B3BA6", "#F23B3B", "#FFD23A"]}, "legend": {"orient": "top-right", "offset": 6}}
         }},
        {"data": {"values": [{}]}, "mark": {"type": "rule", "strokeDash": [2, 2], "color": "black", "strokeWidth": 0.8}, "encoding": {"y": {"datum": 0}}},
        {"data": {"name": "b_tr"}, "mark": {"type": "text", "fontSize": 6, "fontWeight": "bold", "fontStyle": "italic"},
         "encoding": {"x": {"field": "wl", "type": "quantitative"}, "y": {"field": "v", "type": "quantitative"}, "text": {"field": "label"}}},
        {"data": {"values": [{"wl": 709, "v": 0.005, "label": "solid-state"}]}, "mark": {"type": "text", "align": "left", "fontSize": 7, "fontWeight": "bold"},
         "encoding": {"x": {"field": "wl", "type": "quantitative"}, "y": {"field": "v", "type": "quantitative"}, "text": {"field": "label"}}}
      ]},
      {"data": {"name": "b_pl"}, "mark": {"type": "line"},
       "encoding": {
         "x": {"field": "wl", "type": "quantitative", "axis": {"orient": "bottom", "values": [425, 475, 525, 575, 625, 675, 725, 775], "tickCount": 20, "labels": false, "tickSize": 2, "domain": false, "title": null}},
         "y": {"field": "v", "type": "quantitative", "scale": {"domain": [0, 3], "nice": false}, "axis": {"orient": "right", "title": "I (a.u.)", "values": [0, 1, 2, 3], "format": "d", "tickCount": 20, "titleAngle": 270, "labelOverlap": false}},
         "color": {"datum": "P.L.", "legend": null}
       }}
    ],
    "resolve": {"scale": {"y": "independent"}, "axis": {"x": "independent"}}
  },
  {
    "width": 190, "height": 137,
    "title": {"text": "c", "anchor": "start", "frame": "bounds", "offset": -10, "dx": -2},
    "layer": [
      {"layer": [
        {"data": {"name": "c_sep"}, "mark": {"type": "rule", "strokeDash": [1.5, 1.5], "color": "#555555", "strokeWidth": 1},
         "encoding": {"x": {"field": "wl", "type": "quantitative", "scale": {"domain": [425, 800], "nice": false, "zero": false}, "axis": {"orient": "bottom", "title": "wavelength (nm)", "values": [450, 500, 550, 600, 650, 700, 750, 800], "tickCount": 20, "labelOverlap": false}}}},
        {"data": {"name": "c_cpl"}, "mark": {"type": "line"},
         "encoding": {
           "x": {"field": "wl", "type": "quantitative"},
           "y": {"field": "v", "type": "quantitative", "scale": {"domain": [-0.3, 0.3], "nice": false}, "axis": {"title": "gₗᵤₘ", "titleFontSize": 10, "values": [-0.3, -0.2, -0.1, 0, 0.1, 0.2, 0.3], "tickCount": 20, "format": ".1f", "labelOverlap": false}},
           "color": {"field": "s", "type": "nominal", "scale": {"domain": ["Dy-R", "Dy-S", "P.L."], "range": ["#4B3BA6", "#F23B3B", "#FFD23A"]}, "legend": {"orient": "top-left", "offset": 5}},
           "detail": {"field": "g"}
         }},
        {"data": {"values": [{"wl": 427, "v": 0.155, "label": "solution"}]}, "mark": {"type": "text", "align": "left", "fontSize": 7, "fontWeight": "bold"},
         "encoding": {"x": {"field": "wl", "type": "quantitative"}, "y": {"field": "v", "type": "quantitative"}, "text": {"field": "label"}}},
        {"data": {"values": [{"wl": 697, "v": 0.263, "label": "0.25"}, {"wl": 697, "v": -0.236, "label": "0.21"}]}, "mark": {"type": "text", "align": "left", "fontSize": 6, "fontWeight": "bold"},
         "encoding": {"x": {"field": "wl", "type": "quantitative"}, "y": {"field": "v", "type": "quantitative"}, "text": {"field": "label"}}},
        {"data": {"values": [{"wl": 695, "v": 0.258, "wl2": 677, "v2": 0.247}, {"wl": 695, "v": -0.232, "wl2": 677, "v2": -0.212}]}, "mark": {"type": "rule", "color": "black", "strokeWidth": 0.8},
         "encoding": {"x": {"field": "wl", "type": "quantitative"}, "x2": {"field": "wl2"}, "y": {"field": "v", "type": "quantitative"}, "y2": {"field": "v2"}}},
        {"data": {"values": [{"wl": 677, "v": 0.247}]}, "mark": {"type": "point", "shape": "triangle-left", "filled": true, "color": "black", "size": 12, "angle": 344, "opacity": 1},
         "encoding": {"x": {"field": "wl", "type": "quantitative"}, "y": {"field": "v", "type": "quantitative"}}},
        {"data": {"values": [{"wl": 677, "v": -0.212}]}, "mark": {"type": "point", "shape": "triangle-left", "filled": true, "color": "black", "size": 12, "angle": 28, "opacity": 1},
         "encoding": {"x": {"field": "wl", "type": "quantitative"}, "y": {"field": "v", "type": "quantitative"}}}
      ]},
      {"data": {"name": "c_pl"}, "mark": {"type": "line"},
       "encoding": {
         "x": {"field": "wl", "type": "quantitative", "axis": {"orient": "bottom", "values": [425, 475, 525, 575, 625, 675, 725, 775], "tickCount": 20, "labels": false, "tickSize": 2, "domain": false, "title": null}},
         "y": {"field": "v", "type": "quantitative", "scale": {"domain": [0, 3], "nice": false}, "axis": {"orient": "right", "title": "I (a.u.)", "values": [0, 1, 2, 3], "format": "d", "tickCount": 20, "titleAngle": 270, "labelOverlap": false}},
         "color": {"datum": "P.L.", "legend": null},
         "detail": {"field": "g"}
       }}
    ],
    "resolve": {"scale": {"y": "independent"}, "axis": {"x": "independent"}}
  },
  {
    "width": 190, "height": 137,
    "title": {"text": "d", "anchor": "start", "frame": "bounds", "offset": -10, "dx": -2},
    "layer": [
      {"layer": [
        {"data": {"name": "d_sep"}, "mark": {"type": "rule", "strokeDash": [1.5, 1.5], "color": "#555555", "strokeWidth": 1},
         "encoding": {"x": {"field": "wl", "type": "quantitative", "scale": {"domain": [425, 800], "nice": false, "zero": false}, "axis": {"orient": "bottom", "title": "wavelength (nm)", "values": [450, 500, 550, 600, 650, 700, 750, 800], "tickCount": 20, "labelOverlap": false}}}},
        {"data": {"name": "d_cpl"}, "mark": {"type": "line"},
         "encoding": {
           "x": {"field": "wl", "type": "quantitative"},
           "y": {"field": "v", "type": "quantitative", "scale": {"domain": [-0.08, 0.08], "nice": false}, "axis": {"title": "gₗᵤₘ", "titleFontSize": 10, "values": [-0.08, -0.04, 0, 0.04, 0.08], "tickCount": 20, "format": ".2f", "labelOverlap": false}},
           "color": {"field": "s", "type": "nominal", "scale": {"domain": ["Dy-R", "Dy-S", "P.L."], "range": ["#4B3BA6", "#F23B3B", "#FFD23A"]}, "legend": {"orient": "top-left", "offset": 5}},
           "detail": {"field": "g"}
         }},
        {"data": {"values": [{"wl": 427, "v": 0.0415, "label": "solid-state"}]}, "mark": {"type": "text", "align": "left", "fontSize": 7, "fontWeight": "bold"},
         "encoding": {"x": {"field": "wl", "type": "quantitative"}, "y": {"field": "v", "type": "quantitative"}, "text": {"field": "label"}}},
        {"data": {"values": [{"wl": 708, "v": 0.0625, "label": "0.051"}, {"wl": 708, "v": -0.0605, "label": "0.067"}]}, "mark": {"type": "text", "align": "left", "fontSize": 6, "fontWeight": "bold"},
         "encoding": {"x": {"field": "wl", "type": "quantitative"}, "y": {"field": "v", "type": "quantitative"}, "text": {"field": "label"}}},
        {"data": {"values": [{"wl": 706, "v": 0.061, "wl2": 688, "v2": 0.055}, {"wl": 706, "v": -0.0615, "wl2": 689, "v2": -0.066}]}, "mark": {"type": "rule", "color": "black", "strokeWidth": 0.8},
         "encoding": {"x": {"field": "wl", "type": "quantitative"}, "x2": {"field": "wl2"}, "y": {"field": "v", "type": "quantitative"}, "y2": {"field": "v2"}}},
        {"data": {"values": [{"wl": 688, "v": 0.055}, {"wl": 689, "v": -0.066}]}, "mark": {"type": "point", "shape": "triangle-left", "filled": true, "color": "black", "size": 12, "angle": 332, "opacity": 1},
         "encoding": {"x": {"field": "wl", "type": "quantitative"}, "y": {"field": "v", "type": "quantitative"}}}
      ]},
      {"data": {"name": "d_pl"}, "mark": {"type": "line"},
       "encoding": {
         "x": {"field": "wl", "type": "quantitative", "axis": {"orient": "bottom", "values": [425, 475, 525, 575, 625, 675, 725, 775], "tickCount": 20, "labels": false, "tickSize": 2, "domain": false, "title": null}},
         "y": {"field": "v", "type": "quantitative", "scale": {"domain": [0, 3], "nice": false}, "axis": {"orient": "right", "title": "I (a.u.)", "values": [0, 1, 2, 3], "format": "d", "tickCount": 20, "titleAngle": 270, "labelOverlap": false}},
         "color": {"datum": "P.L.", "legend": null},
         "detail": {"field": "g"}
       }}
    ],
    "resolve": {"scale": {"y": "independent"}, "axis": {"x": "independent"}}
  }
]
}
